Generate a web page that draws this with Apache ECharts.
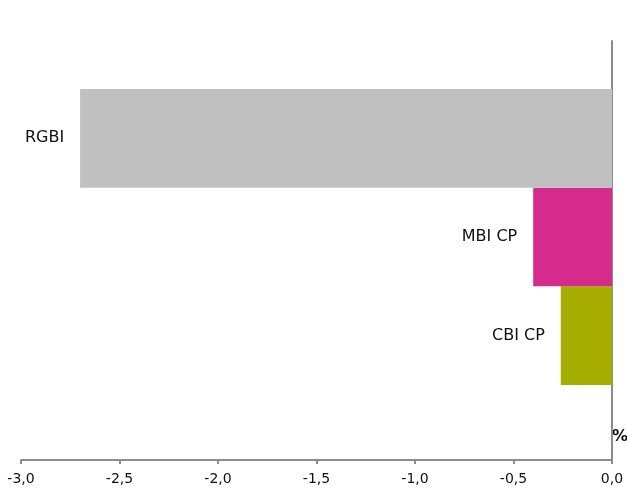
<!DOCTYPE html>
<html>
<head>
<meta charset="utf-8">
<script src="https://cdn.jsdelivr.net/npm/echarts@6/dist/echarts.min.js"></script>
<style>
  html, body { margin: 0; padding: 0; background: #fff; }
  #chart { width: 627px; height: 488px; }
</style>
</head>
<body>
<div id="chart"></div>
<script>
// categories bottom-to-top as the y axis draws them
const categories = ['CBI CP', 'MBI CP', 'RGBI'];
const values = [-0.26, -0.40, -2.70];
const barColors = ['#a5ad00', '#d52b8c', '#c0c0c0'];
const xTicks = [-3.0, -2.5, -2.0, -1.5, -1.0, -0.5, 0.0];

const chart = echarts.init(document.getElementById('chart'));

const axisGray = '#8c8c8c';
const font = 'DejaVu Sans';

chart.setOption({
  animation: false,
  grid: [
    // bars
    { left: 21, right: 15, top: 89, bottom: 103 },
    // axis frame
    { left: 21, right: 15, top: 41, bottom: 28 }
  ],
  xAxis: [
    { gridIndex: 0, type: 'value', min: -3, max: 0, show: false },
    {
      gridIndex: 1,
      type: 'value',
      min: xTicks[0],
      max: xTicks[xTicks.length - 1],
      interval: 0.5,
      axisLine: { show: true, onZero: false, lineStyle: { color: axisGray, width: 2 } },
      axisTick: { show: true, length: 4, lineStyle: { color: axisGray, width: 2 } },
      splitLine: { show: false },
      axisLabel: {
        margin: 12,
        fontFamily: font,
        fontSize: 14,
        color: '#111',
        formatter: v => v.toFixed(1).replace('.', ',')
      }
    }
  ],
  yAxis: [
    {
      gridIndex: 0,
      type: 'category',
      data: categories,
      show: false
    },
    {
      gridIndex: 1,
      type: 'value',
      min: 0,
      max: 1,
      interval: 1,
      axisLine: { show: true, lineStyle: { color: axisGray, width: 2 } },
      axisTick: { show: false },
      axisLabel: { show: false },
      splitLine: { show: false }
    }
  ],
  series: [
    {
      type: 'bar',
      xAxisIndex: 0,
      yAxisIndex: 0,
      barWidth: '100%',
      data: values.map((v, i) => ({ value: v, itemStyle: { color: barColors[i] } })),
      label: {
        show: true,
        position: 'left',
        distance: 16,
        fontFamily: font,
        fontSize: 16,
        color: '#111',
        formatter: p => p.name
      }
    }
  ],
  graphic: [
    {
      type: 'text',
      left: 612,
      top: 429,
      style: { text: '%', font: 'bold 16px "DejaVu Sans"', fill: '#111' }
    }
  ]
});
</script>
</body>
</html>
